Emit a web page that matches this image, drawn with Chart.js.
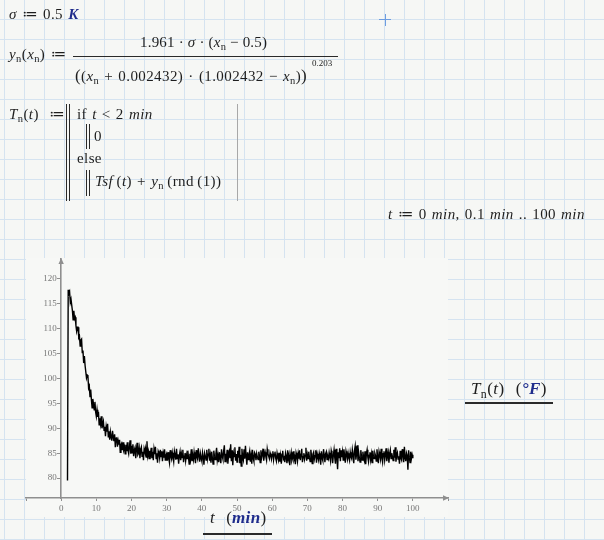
<!DOCTYPE html>
<html lang="en">
<head>
<meta charset="UTF-8">
<title>Tn(t) noisy cooling curve</title>
<script src="https://cdn.jsdelivr.net/npm/chart.js@4.4.1/dist/chart.umd.min.js"></script>
<style>
    body {
        margin: 0;
        width: 604px;
        height: 540px;
        position: relative;
        overflow: hidden;
        background-color: #f6f7f5;
        background-image:
            linear-gradient(to right, #d5e3f0 1px, transparent 1px),
            linear-gradient(to bottom, #d5e3f0 1px, transparent 1px);
        background-size: 20px 20px;
        background-position: 4px 19px;
        font-family: "Liberation Serif", "DejaVu Serif", serif;
        color: #1e1e1e;
    }
    .plot-bg {
        position: absolute;
        left: 26px; top: 258px; width: 422px; height: 259px;
        background: #f7f8f6;
    }
    #chart { position: absolute; left: 0; top: 0; }
    .m {
        position: absolute;
        white-space: nowrap;
        font-size: 15px;
        letter-spacing: 0.4px;
        word-spacing: 1px;
        line-height: 1;
    }
    .m sub { font-size: 70%; vertical-align: -0.3em; line-height: 0; }
    .u { color: #1f2c8c; font-weight: bold; font-style: italic; }
    .bar { position: absolute; background: #2a2a2a; }
</style>
</head>
<body>
<div class="plot-bg"></div>
<canvas id="chart" width="604" height="540"></canvas>

<!-- worksheet text -->
<div class="m" style="left:9px; top:7px;"><i>σ</i> ≔ 0.5 <span class="u">K</span></div>
<div style="position:absolute; left:379px; top:19px; width:12px; height:1px; background:#6e9de0;"></div>
<div style="position:absolute; left:385px; top:14px; width:1px; height:12px; background:#6e9de0;"></div>

<div class="m" style="left:9px; top:47px;"><i>y</i><sub>n</sub>(<i>x</i><sub>n</sub>)&nbsp;≔</div>
<div class="m" style="left:140px; top:35px; word-spacing:0; letter-spacing:0.2px;">1.961 · <i>σ</i> · (<i>x</i><sub>n</sub> − 0.5)</div>
<div class="bar" style="left:73px; top:56px; width:265px; height:1px;"></div>
<div class="m" style="left:75px; top:67px;"><span style="font-size:17px">(</span>(<i>x</i><sub>n</sub> + 0.002432) · (1.002432 − <i>x</i><sub>n</sub>)<span style="font-size:17px">)</span></div>
<div class="m" style="left:312px; top:59px; font-size:9px; letter-spacing:0;">0.203</div>

<div class="m" style="left:9px; top:107px;"><i>T</i><sub>n</sub>(<i>t</i>)&nbsp;&nbsp;≔</div>
<div class="bar" style="left:66px; top:104px; width:1px; height:97px;"></div>
<div class="bar" style="left:69px; top:104px; width:1px; height:97px;"></div>
<div class="m" style="left:77px; top:107px;">if <i>t</i> &lt; 2 <i>min</i></div>
<div class="bar" style="left:86px; top:124px; width:1px; height:25px;"></div>
<div class="bar" style="left:89px; top:124px; width:1px; height:25px;"></div>
<div class="m" style="left:94px; top:129px;">0</div>
<div class="m" style="left:77px; top:151px;">else</div>
<div class="bar" style="left:86px; top:170px; width:1px; height:26px;"></div>
<div class="bar" style="left:89px; top:170px; width:1px; height:26px;"></div>
<div class="m" style="left:95px; top:174px;"><i>Tsf</i>&thinsp;(<i>t</i>) + <i>y</i><sub>n</sub>&thinsp;(rnd&thinsp;(1))</div>
<div class="bar" style="left:237px; top:104px; width:1px; height:97px; background:#a8a8a8;"></div>

<div class="m" style="left:388px; top:207px;"><i>t</i> ≔ 0 <i>min</i>, 0.1 <i>min</i> .. 100 <i>min</i></div>

<div class="m" style="left:210px; top:509px; font-size:17px; letter-spacing:0.3px;"><i>t</i>&nbsp; (<span class="u">min</span>)</div>
<div class="bar" style="left:203px; top:533px; width:69px; height:1.5px;"></div>
<div class="m" style="left:471px; top:380px; font-size:17px; letter-spacing:0.4px;"><i>T</i><sub>n</sub>(<i>t</i>)&nbsp; (<span class="u">°F</span>)</div>
<div class="bar" style="left:465px; top:402px; width:88px; height:1.5px;"></div>

<script>
// t := 0 min, 0.1 min .. 100 min  (every 0.2 min from t = 1.8)
const tStart = 1.8;
const tStep = 0.2;

// Tn(t) in °F
const temps = [
    79.5,
    117.8, 117.0, 117.4, 115.3, 115.9, 115.9, 113.6, 111.8, 113.6, 112.0,
    112.3, 110.6, 109.5, 110.3, 110.3, 108.2, 108.5, 106.5, 107.7, 107.9,
    105.2, 105.6, 103.1, 104.5, 102.6, 102.6, 100.1, 100.7, 100.6, 98.1,
    98.5, 96.4, 97.8, 95.7, 94.1, 95.9, 94.8, 93.7, 95.3, 93.3,
    92.4, 93.7, 92.3, 93.3, 90.7, 92.0, 90.9, 92.4, 90.0, 90.8,
    91.4, 89.6, 90.3, 88.4, 90.3, 89.3, 90.9, 88.3, 89.4, 87.7,
    89.3, 88.3, 87.5, 89.5, 88.3, 87.4, 88.8, 86.2, 88.0, 88.2,
    86.3, 87.5, 86.7, 87.7, 85.2, 86.7, 87.0, 85.6, 87.2, 85.7,
    86.2, 84.9, 86.7, 85.4, 87.2, 85.6, 84.9, 86.3, 87.6, 84.9,
    86.5, 85.1, 86.8, 84.4, 85.6, 86.1, 84.0, 85.7, 87.1, 84.7,
    85.0, 86.0, 84.0, 85.7, 86.2, 84.4, 85.3, 83.6, 85.9, 85.3,
    86.0, 84.2, 87.4, 84.5, 85.3, 83.9, 85.5, 84.7, 86.1, 84.0,
    85.3, 83.6, 85.8, 84.8, 86.3, 83.9, 85.0, 83.1, 85.4, 85.0,
    84.0, 85.7, 84.3, 85.4, 83.4, 85.0, 84.1, 85.8, 83.6, 84.5,
    84.9, 83.5, 85.2, 84.0, 83.1, 85.6, 84.4, 83.8, 85.1, 84.2,
    83.3, 85.4, 84.6, 83.7, 85.9, 83.9, 84.8, 82.9, 84.5, 85.3,
    83.6, 84.9, 84.1, 85.7, 83.2, 84.4, 85.0, 83.5, 84.7, 83.9,
    85.5, 84.2, 82.8, 84.9, 84.0, 85.8, 83.4, 84.6, 83.7, 85.2,
    84.1, 83.0, 85.6, 84.3, 83.8, 86.0, 84.5, 83.3, 84.9, 84.0,
    83.4, 85.1, 84.2, 82.7, 85.0, 84.4, 83.6, 85.7, 83.9, 84.8,
    85.9, 83.5, 84.6, 83.1, 85.3, 84.0, 82.8, 85.5, 84.3, 83.7,
    84.9, 86.1, 83.6, 84.5, 83.2, 85.2, 84.1, 83.0, 85.8, 84.4,
    83.8, 85.4, 86.6, 83.3, 84.9, 84.0, 85.7, 82.9, 84.6, 85.3,
    84.0, 86.8, 83.4, 85.6, 82.6, 85.0, 84.3, 86.2, 83.5, 84.8,
    83.2, 85.5, 84.1, 86.3, 83.0, 84.7, 82.4, 85.9, 84.2, 83.6,
    85.8, 83.9, 86.5, 84.4, 82.7, 85.2, 83.7, 84.6, 85.4, 83.3,
    84.5, 82.9, 85.7, 84.0, 83.4, 85.1, 84.8, 83.6, 84.9, 84.2,
    83.7, 85.3, 84.4, 83.1, 85.6, 84.0, 84.7, 85.9, 83.5, 84.6,
    85.2, 84.3, 83.6, 85.8, 84.9, 84.4, 83.9, 85.1, 84.6, 83.8,
    84.7, 85.4, 83.7, 84.8, 85.3, 84.0, 83.4, 85.0, 84.2, 83.6,
    85.1, 83.3, 84.5, 82.9, 84.8, 85.5, 83.8, 84.1, 83.2, 85.0,
    84.3, 83.0, 85.6, 83.9, 84.7, 82.6, 84.4, 85.2, 83.5, 84.0,
    85.4, 83.7, 84.2, 82.8, 85.1, 84.5, 83.4, 84.9, 83.9, 85.6,
    83.6, 84.8, 85.9, 83.2, 84.3, 85.0, 83.8, 84.6, 86.1, 83.5,
    84.7, 83.9, 85.3, 84.1, 83.3, 85.7, 84.4, 82.9, 84.8, 85.2,
    83.8, 84.5, 85.6, 83.1, 84.9, 84.2, 83.6, 85.0, 84.3, 82.7,
    85.4, 84.0, 83.5, 85.8, 84.6, 83.2, 84.9, 85.3, 83.7, 84.4,
    83.9, 85.1, 84.2, 83.4, 85.5, 84.8, 83.0, 84.6, 85.7, 84.1,
    82.9, 85.9, 84.3, 81.8, 85.2, 84.0, 86.0, 83.4, 85.6, 84.2,
    85.3, 83.6, 85.8, 84.5, 83.1, 85.4, 84.7, 83.8, 85.0, 84.1,
    83.5, 85.2, 84.3, 83.9, 85.7, 84.6, 83.0, 85.5, 86.4, 83.7,
    84.8, 86.6, 83.4, 85.1, 84.0, 83.2, 85.6, 84.4, 83.6, 85.3,
    84.1, 83.5, 85.4, 82.8, 84.9, 85.7, 84.2, 83.3, 84.6, 85.2,
    83.7, 84.8, 83.1, 85.5, 84.3, 83.9, 85.0, 84.5, 83.4, 85.8,
    84.2, 83.0, 85.3, 84.6, 83.8, 85.9, 84.1, 83.2, 84.9, 85.4,
    83.6, 84.7, 86.0, 83.4, 84.5, 85.2, 83.1, 84.8, 85.6, 83.9,
    85.0, 84.3, 83.5, 85.7, 84.1, 86.2, 83.3, 84.6, 85.1, 83.8,
    84.4, 82.9, 85.5, 84.0, 83.6, 85.8, 84.7, 83.2, 86.3, 84.1,
    83.4, 85.0, 84.5, 81.7, 85.6, 84.2, 83.1, 85.3, 83.9, 84.7,
    84.0
];

const xTicks = [-10, 0, 10, 20, 30, 40, 50, 60, 70, 80, 90, 100, 110];
const yTicks = [80, 85, 90, 95, 100, 105, 110, 115, 120];

const axisGray = '#8f8f8f';
const labelGray = '#777777';

const points = temps.map((v, i) => ({ x: +(tStart + i * tStep).toFixed(1), y: v }));

// little arrow heads at the ends of both axes, like the worksheet plot
const axisArrows = {
    id: 'axisArrows',
    afterDraw(chart) {
        const ctx = chart.ctx;
        const area = chart.chartArea;
        const x0 = chart.scales.x.getPixelForValue(0);
        const yb = area.bottom;
        ctx.save();
        ctx.fillStyle = axisGray;
        ctx.beginPath();
        ctx.moveTo(area.right + 1, yb);
        ctx.lineTo(area.right - 5, yb - 2.7);
        ctx.lineTo(area.right - 5, yb + 2.7);
        ctx.closePath();
        ctx.fill();
        ctx.beginPath();
        ctx.moveTo(x0, area.top - 1);
        ctx.lineTo(x0 - 2.7, area.top + 5);
        ctx.lineTo(x0 + 2.7, area.top + 5);
        ctx.closePath();
        ctx.fill();
        ctx.restore();
    }
};

const tickFont = { family: '"Liberation Serif", "DejaVu Serif", serif', size: 9 };

new Chart(document.getElementById('chart').getContext('2d'), {
    type: 'line',
    data: {
        datasets: [{
            data: points,
            borderColor: '#000000',
            borderWidth: 1.4,
            pointRadius: 0,
            tension: 0,
            fill: false
        }]
    },
    options: {
        responsive: false,
        animation: false,
        layout: { padding: { left: 26, top: 259, right: 156, bottom: 22 } },
        plugins: {
            legend: { display: false },
            tooltip: { enabled: false }
        },
        scales: {
            x: {
                type: 'linear',
                min: -10,
                max: 110,
                position: 'bottom',
                afterBuildTicks: s => { s.ticks = xTicks.map(v => ({ value: v })); },
                afterFit: s => { s.height = 20; s.paddingLeft = 0; s.paddingRight = 0; },
                grid: { drawOnChartArea: false, tickLength: 3, color: axisGray, lineWidth: 1 },
                border: { color: axisGray, width: 1.6 },
                ticks: {
                    color: labelGray,
                    font: tickFont,
                    padding: 2,
                    maxRotation: 0,
                    autoSkip: false,
                    callback: v => (v < 0 || v > 100) ? '' : v
                }
            },
            y: {
                type: 'linear',
                min: 76,
                max: 124,
                position: { x: 0 },
                afterBuildTicks: s => { s.ticks = yTicks.map(v => ({ value: v })); },
                afterFit: s => { s.paddingTop = 0; s.paddingBottom = 0; },
                grid: { drawOnChartArea: false, tickLength: 3, color: axisGray, lineWidth: 1 },
                border: { color: axisGray, width: 1.6 },
                ticks: {
                    color: labelGray,
                    font: tickFont,
                    autoSkip: false,
                    // labels sit left of the tick marks, as in the worksheet
                    callback: v => v + '  '
                }
            }
        }
    },
    plugins: [axisArrows]
});
</script>
</body>
</html>
